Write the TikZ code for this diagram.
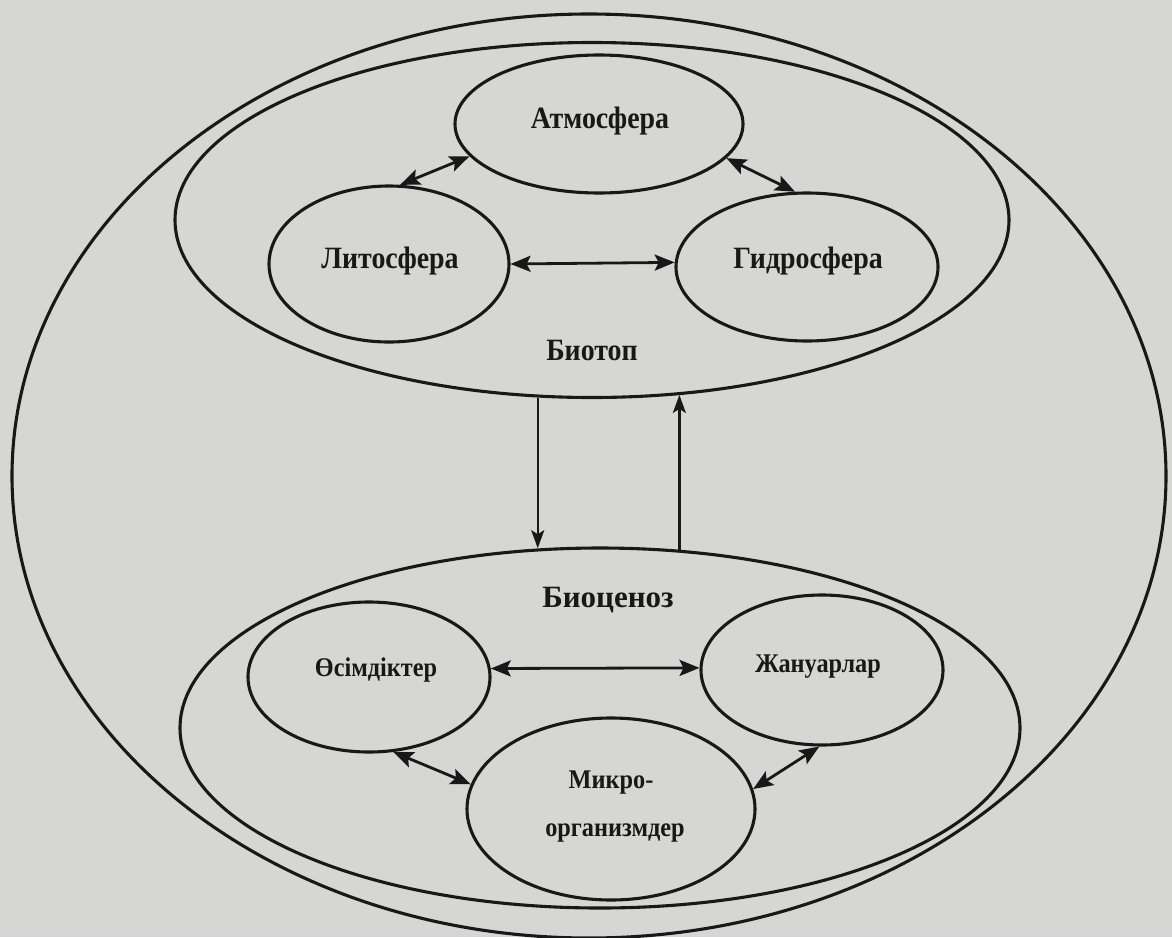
\documentclass[tikz,border=0pt]{standalone}
\usepackage{fontspec}
\setmainfont{Liberation Serif}
\usetikzlibrary{shapes.geometric,arrows.meta}
\definecolor{bgc}{RGB}{214,214,212}
\definecolor{ink}{RGB}{24,24,24}
\newcommand\mylbl[2][0.9]{\scalebox{#1}[1]{#2}}
\begin{document}
\begin{tikzpicture}[x=1pt,y=-1pt,
  ell/.style={ellipse,draw=ink,line width=3.1pt,inner sep=0pt},
  topfont/.style={font=\fontsize{31}{36}\selectfont\bfseries,text=ink,inner sep=0pt,anchor=mid},
  botfont/.style={font=\fontsize{27}{47}\selectfont\bfseries,text=ink,inner sep=0pt,anchor=mid},
  conn/.style={draw=ink,line width=2.8pt},
  both/.style={conn,{Stealth[length=20pt,width=16pt,inset=4pt]}-{Stealth[length=20pt,width=16pt,inset=4pt]}},
  one/.style={conn,line width=2.3pt,-{Stealth[length=18pt,width=13pt,inset=4pt]}}]
\useasboundingbox (0,0) rectangle (1172,937);
\fill[bgc] (0,0) rectangle (1172,937);
% outer boundary
\node[ell,minimum width=1154pt,minimum height=924pt] (outer) at (589,476) {};
% containers
\node[ell,minimum width=834pt,minimum height=355pt] (biotop) at (592,220) {};
\node[ell,minimum width=840pt,minimum height=360pt] (biocen) at (600,728) {};
% biotope parts
\node[ell,minimum width=288pt,minimum height=138pt] (atm) at (599,124) {};
\node[ell,minimum width=240pt,minimum height=156pt] (lit) at (389,264) {};
\node[ell,minimum width=262pt,minimum height=148pt] (hyd) at (807,267) {};
\node[topfont] (atmlbl) at (600,126) {\mylbl{Атмосфера}};
\node[topfont] (litlbl) at (390,266) {\mylbl{Литосфера}};
\node[topfont] (hydlbl) at (808,266) {\mylbl{Гидросфера}};
\node[topfont] (biotoplbl) at (592,358) {\mylbl{Биотоп}};
% biocenosis parts
\node[ell,minimum width=242pt,minimum height=150pt] (oes) at (369,677) {};
\node[ell,minimum width=242pt,minimum height=150pt] (zhan) at (822,670) {};
\node[ell,minimum width=288pt,minimum height=182pt] (micro) at (611,809) {};
\node[topfont] (biocenlbl) at (608,605) {\mylbl[1]{Биоценоз}};
\node[botfont] (oeslbl) at (376,674) {\mylbl{Өсімдіктер}};
\node[botfont] (zhanlbl) at (818,670) {\mylbl{Жануарлар}};
\node[botfont] (microlbl1) at (611,786) {\mylbl{Микро-}};
\node[botfont] (microlbl2) at (615,834) {\mylbl{организмдер}};
% connectors
\draw[both] (lit.82) -- (atm.194);
\draw[both] (atm.345) -- (hyd.99);
\draw[both] (lit.east) -- (hyd.178);
\draw[one] (biotop.253.5) -- (biotop.253.5 |- biocen.108.6);
\draw[one] (biocen.66.3) -- (biocen.66.3 |- biotop.297.5);
\draw[both] (oes.4.3) -- (zhan.179);
\draw[both] (oes.288.6) -- (micro.170.8);
\draw[both] (zhan.268) -- (micro.8.6);
\end{tikzpicture}
\end{document}
